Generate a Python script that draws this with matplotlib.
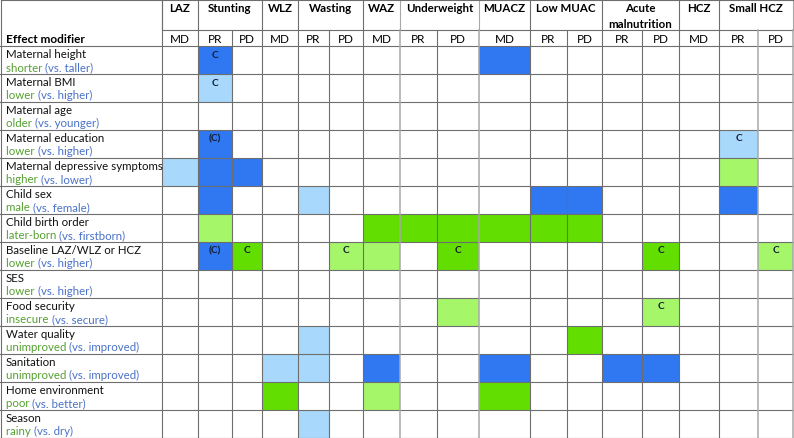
import matplotlib.pyplot as plt
from matplotlib.patches import Rectangle

plt.rcParams['font.family'] = ['Lato', 'DejaVu Sans']

# effect modifiers (rows) and their contrasts
modifiers = ["Maternal height", "Maternal BMI", "Maternal age", "Maternal education",
             "Maternal depressive symptoms", "Child sex", "Child birth order",
             "Baseline LAZ/WLZ or HCZ", "SES", "Food security", "Water quality",
             "Sanitation", "Home environment", "Season"]
level = ["shorter", "lower", "older", "lower", "higher", "male", "later-born",
         "lower", "lower", "insecure", "unimproved", "unimproved", "poor", "rainy"]
reference = ["(vs. taller)", "(vs. higher)", "(vs. younger)", "(vs. higher)", "(vs. lower)",
             "(vs. female)", "(vs. firstborn)", "(vs. higher)", "(vs. higher)", "(vs. secure)",
             "(vs. improved)", "(vs. improved)", "(vs. better)", "(vs. dry)"]

# outcomes and the measures reported for each
outcomes = ["LAZ", "Stunting", "WLZ", "Wasting", "WAZ", "Underweight", "MUACZ",
            "Low MUAC", "Acute\nmalnutrition", "HCZ", "Small HCZ"]
measures = [["MD"], ["PR", "PD"], ["MD"], ["PR", "PD"], ["MD"], ["PR", "PD"], ["MD"],
            ["PR", "PD"], ["PR", "PD"], ["MD"], ["PR", "PD"]]

# findings: row index, column index (0..16), kind, note
find_row = [0, 0, 1, 3, 3, 4, 4, 4, 4, 5, 5, 5, 5, 5,
            6, 6, 6, 6, 6, 6, 6, 7, 7, 7, 7, 7, 7, 7,
            9, 9, 10, 10, 11, 11, 11, 11, 11, 11, 12, 12, 12, 13]
find_col = [1, 9, 1, 1, 15, 0, 1, 2, 15, 1, 4, 10, 11, 15,
            1, 6, 7, 8, 9, 10, 11, 1, 2, 5, 6, 8, 13, 16,
            8, 13, 4, 11, 3, 4, 6, 9, 12, 13, 3, 6, 9, 4]
find_kind = ["db", "db", "lb", "db", "lb", "lb", "db", "db", "lg", "db", "lb", "db", "db", "db",
             "lg", "dg", "dg", "dg", "dg", "dg", "dg", "db", "dg", "lg", "lg", "dg", "dg", "lg",
             "lg", "lg", "lb", "dg", "lb", "lb", "db", "db", "db", "db", "dg", "lg", "dg", "lb"]
find_note = ["C", "", "C", "(C)", "C", "", "", "", "", "", "", "", "", "",
             "", "", "", "", "", "", "", "(C)", "C", "C", "", "C", "C", "C",
             "", "C", "", "", "", "", "", "", "", "", "", "", "", ""]

kind_color = {"db": "#2f78f2", "lb": "#a8d8fb", "dg": "#62df00", "lg": "#a6f66a"}
col_widths = [36, 34, 30, 36, 31, 34, 37, 37, 42, 51, 37, 35, 40, 37, 40, 39, 35]
light_edges = {7, 9, 16, 17}  # lines drawn a bit paler in the source
first_w = 162
head1, head2, row_h = 31, 16, 28
line_c = "#6e6e6e"
line_light = "#a8a8a8"
green_txt = "#55a030"
blue_txt = "#4a72c8"

edges = [first_w]
for w in col_widths:
    edges.append(edges[-1] + w)
right = edges[-1]
top_rows = head1 + head2
bottom = top_rows + row_h * len(modifiers)

fig = plt.figure(figsize=(7.94, 4.39), dpi=100)
ax = fig.add_axes([0, 0, 1, 1])
ax.set_xlim(0, 794)
ax.set_ylim(439, 0)
ax.axis('off')

# coloured cells
for r, c, k, note in zip(find_row, find_col, find_kind, find_note):
    y0 = top_rows + r * row_h
    ax.add_patch(Rectangle((edges[c], y0), col_widths[c], row_h,
                           facecolor=kind_color[k], edgecolor='none', zorder=1))
    if note:
        ax.text(edges[c] + col_widths[c] / 2, y0 + 8, note, ha='center', va='center',
                fontsize=7.3, fontweight='bold', color='#141c30', zorder=3)

# header
ci = 0
for name, ms in zip(outcomes, measures):
    x0 = edges[ci]
    x1 = edges[ci + len(ms)]
    if "\n" in name:
        a, b = name.split("\n")
        ax.text((x0 + x1) / 2, 9, a, ha='center', va='center', fontsize=8.3, fontweight='bold')
        ax.text((x0 + x1) / 2, 24, b, ha='center', va='center', fontsize=8.3, fontweight='bold')
    else:
        ax.text((x0 + x1) / 2, 9, name, ha='center', va='center', fontsize=8.3, fontweight='bold')
    ax.plot([x0, x0], [0, head1], color=line_light if ci in light_edges else line_c,
            lw=0.8, zorder=2)
    for m in ms:
        ax.text(edges[ci] + col_widths[ci] / 2, head1 + head2 / 2 + 0.5, m, ha='center',
                va='center', fontsize=8.5)
        ci += 1
ax.plot([right, right], [0, head1], color=line_light, lw=0.8, zorder=2)
ax.text(6, head1 + head2 / 2 + 0.5, "Effect modifier", ha='left', va='center',
        fontsize=8.5, fontweight='bold')

# row labels
for i, (mod, lv, ref) in enumerate(zip(modifiers, level, reference)):
    y0 = top_rows + i * row_h
    ax.text(6, y0 + 7.5, mod, ha='left', va='center', fontsize=8.3, color='#111111')
    t = ax.text(6, y0 + 21, lv + " ", ha='left', va='center', fontsize=8.3, color=green_txt)
    ax.annotate(ref, xycoords=t, xy=(1, 0), va='bottom', ha='left',
                fontsize=8.3, color=blue_txt)

# grid lines
ax.plot([0.5, right], [0.5, 0.5], color=line_c, lw=0.8, zorder=2)
ax.plot([first_w, right], [head1, head1], color=line_c, lw=0.8, zorder=2)
for j in range(len(modifiers) + 1):
    y = top_rows + j * row_h
    ax.plot([0, right], [y, y], color=line_c, lw=0.8, zorder=2)
ax.plot([0.5, 0.5], [0, bottom], color=line_c, lw=0.8, zorder=2)
ax.plot([first_w, first_w], [0, bottom], color=line_c, lw=0.8, zorder=2)
for k, x in enumerate(edges[1:], start=1):
    ax.plot([x, x], [head1, bottom], color=line_light if k in light_edges else line_c,
            lw=0.8 if k not in light_edges else 1.1, zorder=2)

fig.savefig("out.png", dpi=100)
